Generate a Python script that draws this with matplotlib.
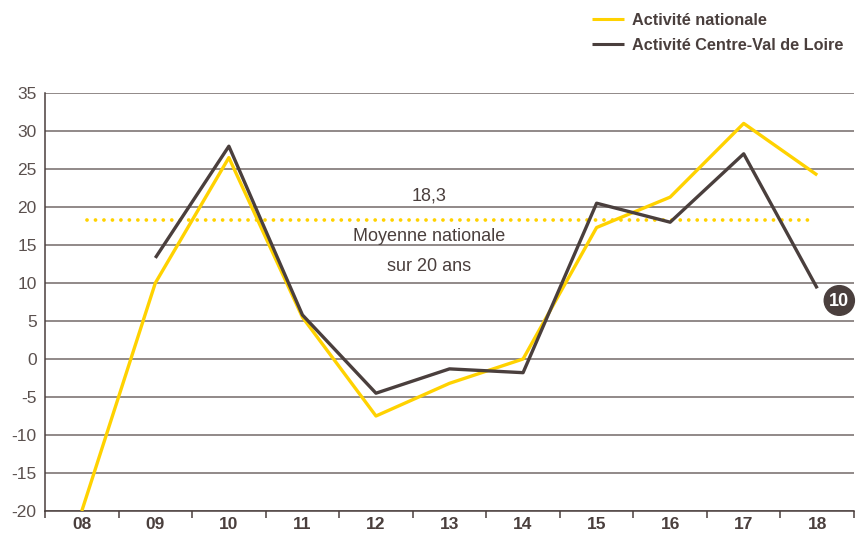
import numpy as np
import matplotlib
matplotlib.use('Agg')
from matplotlib import pyplot as plt
from matplotlib.patches import Ellipse

plt.rcParams['font.family'] = ['Liberation Sans', 'DejaVu Sans']

years = ['08', '09', '10', '11', '12', '13', '14', '15', '16', '17', '18']
national = [-20, 10, 26.5, 5.5, -7.5, -3.2, 0, 17.3, 21.3, 31, 24.2]
centre_vdl = [np.nan, 13.3, 28, 5.8, -4.5, -1.3, -1.8, 20.5, 18, 27, 9.3]
moyenne = 18.3
last_value = 10

yellow = '#ffd200'
brown = '#4a3f3d'
grid_col = '#736a68'

fig = plt.figure(figsize=(8.59, 5.33), dpi=100)
ax = fig.add_axes([0.0524, 0.0413, 0.9418, 0.7842])

x = np.arange(len(years))
ax.plot(x, national, color=yellow, lw=2.4, solid_capstyle='butt', zorder=3,
        label='Activité nationale')
ax.plot(x, centre_vdl, color=brown, lw=2.4, solid_capstyle='butt', zorder=4,
        label='Activité Centre-Val de Loire')

# moyenne nationale sur 20 ans
ax.plot([0.07, 9.97], [moyenne, moyenne], color=yellow, lw=2.7,
        linestyle=(0, (0.01, 2.25)), dash_capstyle='round', zorder=2)
ax.text(4.72, moyenne + 3.2, '18,3', ha='center', va='center', fontsize=13, color=brown)
ax.text(4.72, moyenne - 2.2, 'Moyenne nationale', ha='center', va='center', fontsize=13, color=brown)
ax.text(4.72, moyenne - 6.1, 'sur 20 ans', ha='center', va='center', fontsize=13, color=brown)

# pastille derniere valeur
ax.add_patch(Ellipse((10.3, 7.7), 0.41, 3.9, color=brown, zorder=5, clip_on=False))
ax.text(10.3, 7.6, str(last_value), ha='center', va='center', fontsize=13,
        fontweight='bold', color='white', zorder=6, clip_on=False)

ax.set_xlim(-0.5, 10.5)
ax.set_ylim(-20, 35)
ax.set_yticks(np.arange(-20, 36, 5))
ax.set_yticklabels([str(v) for v in range(-20, 36, 5)], fontsize=12.5, color='#5a504e')
ax.yaxis.grid(True, color=grid_col, lw=1.1)
ax.set_axisbelow(True)
ax.tick_params(axis='y', length=0, pad=6)

ax.set_xticks(x)
ax.set_xticklabels(years, fontsize=12.5, fontweight='bold', color=brown)
ax.set_xticks(np.arange(-0.5, 10.6, 1), minor=True)
ax.tick_params(axis='x', which='major', length=0, pad=4)
ax.tick_params(axis='x', which='minor', length=5, width=1.1, color=brown)

for s in ['top', 'right']:
    ax.spines[s].set_visible(False)
for s in ['left', 'bottom']:
    ax.spines[s].set_color(brown)
    ax.spines[s].set_linewidth(1.1)

leg = fig.legend(loc='upper left', bbox_to_anchor=(0.672, 1.003), frameon=False,
                 fontsize=11.7, handlelength=2.0, handletextpad=0.5, labelspacing=0.6)
for t in leg.get_texts():
    t.set_color(brown)
    t.set_fontweight('bold')
for h in leg.legend_handles:
    h.set_linewidth(2.2)

fig.savefig('out.png', dpi=100)
